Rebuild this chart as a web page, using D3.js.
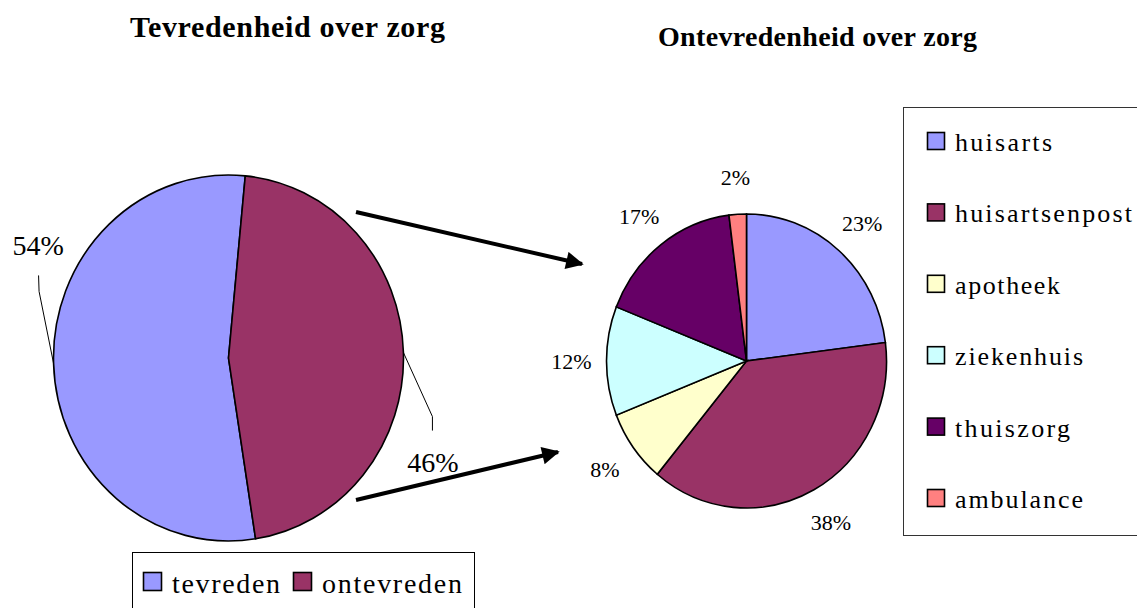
<!DOCTYPE html>
<meta charset="utf-8">
<style>
body { margin: 0; background: #fff; }
.slice { stroke: #000; stroke-width: 1.6px; }
</style>
<body>
<svg id="chart" width="1137" height="608"></svg>
<script src="https://d3js.org/d3.v7.min.js"></script>
<script>
// left pie: satisfaction
var mainCats = ["tevreden", "ontevreden"];
var mainVals = [54, 46];
var mainColors = ["#9999FF", "#993366"];

// right pie: breakdown of dissatisfaction
var subCats = ["huisarts", "huisartsenpost", "apotheek", "ziekenhuis", "thuiszorg", "ambulance"];
var subVals = [23, 38, 8, 12, 17, 2];
var subColors = ["#9999FF", "#993366", "#FFFFCC", "#CCFFFF", "#660066", "#FF8080"];

var FONT = "'Liberation Serif'";
var svg = d3.select("#chart");
var deg = Math.PI / 180;

function label(sel) {
  return sel.append("text").style("font-family", FONT).attr("fill", "#000");
}

// arrow head marker
svg.append("defs").append("marker")
    .attr("id", "head")
    .attr("viewBox", "0 0 10 10")
    .attr("refX", 9).attr("refY", 5)
    .attr("markerWidth", 5).attr("markerHeight", 4.4)
    .attr("markerUnits", "strokeWidth")
    .attr("orient", "auto")
  .append("path")
    .attr("d", "M0,0 L10,5 L0,10 z")
    .attr("fill", "#000");

// titles
label(svg).attr("font-weight", "bold")
    .attr("x", 130).attr("y", 37)
    .attr("font-size", "30px")
    .attr("textLength", 315).attr("lengthAdjust", "spacing")
    .text("Tevredenheid over zorg");
label(svg).attr("font-weight", "bold")
    .attr("x", 658).attr("y", 46)
    .attr("font-size", "28px")
    .attr("textLength", 319).attr("lengthAdjust", "spacing")
    .text("Ontevredenheid over zorg");

// ---------- left pie ----------
var L = {cx: 228.5, cy: 358, rx: 175, ry: 183};
var startL = 171.1 * deg;
var pieL = d3.pie().sort(null).startAngle(startL).endAngle(startL + 2 * Math.PI);
var arcL = d3.arc().innerRadius(0).outerRadius(L.ry);
var arcsL = pieL(mainVals);

var gL = svg.append("g")
    .attr("transform", "translate(" + L.cx + "," + L.cy + ") scale(" + (L.rx / L.ry) + ",1)");
gL.selectAll("path").data(arcsL).enter().append("path")
    .attr("class", "slice")
    .attr("vector-effect", "non-scaling-stroke")
    .attr("d", arcL)
    .attr("fill", function(d, i) { return mainColors[i]; });

// edge point of a slice at its middle angle
function edgeL(d) {
  var a = (d.startAngle + d.endAngle) / 2;
  return [L.cx + L.rx * Math.sin(a), L.cy - L.ry * Math.cos(a)];
}

// leader lines + labels (labels were dragged in the original)
var leaderOffsets = [
  [[0, 0], [-14.5, -72], [-15, -88]],
  [[0, 0], [29, 64], [29, 78]]
];
var labelOffsets = [[-15.5, -108], [29.5, 119]];
arcsL.forEach(function(d, i) {
  var p = edgeL(d);
  svg.append("path")
      .attr("d", d3.line()(leaderOffsets[i].map(function(o) { return [p[0] + o[0], p[1] + o[1]]; })))
      .attr("fill", "none")
      .attr("stroke", "#000")
      .attr("stroke-width", 1);
  label(svg)
      .attr("x", p[0] + labelOffsets[i][0])
      .attr("y", p[1] + labelOffsets[i][1])
      .attr("text-anchor", "middle")
      .attr("font-size", "28px")
      .text(d3.format(".0f")(mainVals[i]) + "%");
});

// bottom legend
var legL = svg.append("g");
legL.append("rect")
    .attr("x", 132.5).attr("y", 552.5).attr("width", 342).attr("height", 70)
    .attr("fill", "#fff").attr("stroke", "#000").attr("stroke-width", 1);
var legX = [143, 293];
var legW = [108, 140];
mainCats.forEach(function(c, i) {
  legL.append("rect")
      .attr("x", legX[i] + 0.5).attr("y", 572.5).attr("width", 18).attr("height", 18)
      .attr("fill", mainColors[i]).attr("stroke", "#000").attr("stroke-width", 1.6);
  label(legL)
      .attr("x", legX[i] + 29).attr("y", 593)
      .attr("font-size", "28px")
      .attr("textLength", legW[i]).attr("lengthAdjust", "spacing")
      .text(c);
});

// ---------- arrows ----------
var arrows = [[[356, 212], [582, 264]], [[356, 500], [558, 452]]];
svg.selectAll(".arrow").data(arrows).enter().append("path")
    .attr("class", "arrow")
    .attr("d", function(d) { return d3.line()(d); })
    .attr("stroke", "#000")
    .attr("stroke-width", 4)
    .attr("marker-end", "url(#head)");

// ---------- right pie ----------
var R = {cx: 746.5, cy: 361, rx: 140, ry: 147};
var pieR = d3.pie().sort(null);
var arcR = d3.arc().innerRadius(0).outerRadius(R.ry);
var labelArc = d3.arc().innerRadius(R.ry * 1.25).outerRadius(R.ry * 1.25);
var arcsR = pieR(subVals);

var gR = svg.append("g")
    .attr("transform", "translate(" + R.cx + "," + R.cy + ") scale(" + (R.rx / R.ry) + ",1)");
gR.selectAll("path").data(arcsR).enter().append("path")
    .attr("class", "slice")
    .attr("vector-effect", "non-scaling-stroke")
    .attr("d", arcR)
    .attr("fill", function(d, i) { return subColors[i]; });

arcsR.forEach(function(d) {
  var c = labelArc.centroid(d);
  label(svg)
      .attr("x", R.cx + c[0] * R.rx / R.ry)
      .attr("y", R.cy + c[1])
      .attr("dy", "0.35em")
      .attr("text-anchor", "middle")
      .attr("font-size", "22px")
      .text(d.value + "%");
});

// right legend
var legR = svg.append("g");
legR.append("rect")
    .attr("x", 903.5).attr("y", 107.5).attr("width", 260).attr("height", 428)
    .attr("fill", "none").attr("stroke", "#333").attr("stroke-width", 1);
var rowY = d3.scalePoint().domain(subCats).range([141, 498]);
var rowW = [97, 177, 105, 128, 115, 128];
subCats.forEach(function(c, i) {
  legR.append("rect")
      .attr("x", 927.5).attr("y", rowY(c) - 8.5).attr("width", 17).attr("height", 17)
      .attr("fill", subColors[i]).attr("stroke", "#000").attr("stroke-width", 1.6);
  label(legR)
      .attr("x", 955).attr("y", rowY(c) + 10)
      .attr("font-size", "26px")
      .attr("textLength", rowW[i]).attr("lengthAdjust", "spacing")
      .text(c);
});
</script>
</body>
